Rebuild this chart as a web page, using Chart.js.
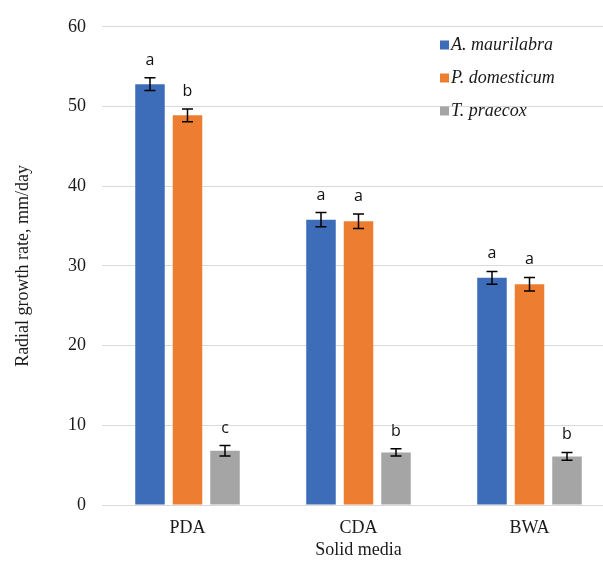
<!DOCTYPE html>
<html>
<head>
<meta charset="utf-8">
<script src="https://cdn.jsdelivr.net/npm/chart.js@4/dist/chart.umd.min.js"></script>
<style>
  html, body { margin: 0; padding: 0; background: #fff; overflow: hidden; }
  #wrap { width: 620px; height: 562px; }
</style>
</head>
<body>
<div id="wrap"><canvas id="c" width="620" height="562"></canvas></div>
<script>
const categories = ['PDA', 'CDA', 'BWA'];
const seriesNames = ['A. maurilabra', 'P. domesticum', 'T. praecox'];
const maurilabra = [52.8, 35.8, 28.5];
const domesticum = [48.9, 35.6, 27.7];
const praecox = [6.8, 6.6, 6.1];
const maurilabraErr = [0.8, 0.9, 0.8];
const domesticumErr = [0.8, 0.9, 0.85];
const praecoxErr = [0.65, 0.45, 0.5];
const maurilabraLetters = ['a', 'a', 'a'];
const domesticumLetters = ['b', 'a', 'a'];
const praecoxLetters = ['c', 'b', 'b'];
const yTicks = [0, 10, 20, 30, 40, 50, 60];

const colors = ['#3d6cb9', '#ed7d31', '#a5a5a5'];
const values = [maurilabra, domesticum, praecox];
const errs = [maurilabraErr, domesticumErr, praecoxErr];
const letters = [maurilabraLetters, domesticumLetters, praecoxLetters];

const serif = '"Liberation Serif", "Times New Roman", serif';

const extrasPlugin = {
  id: 'extras',
  afterDatasetsDraw(chart) {
    const ctx = chart.ctx;
    const y = chart.scales.y;
    ctx.save();
    chart.data.datasets.forEach((ds, di) => {
      const meta = chart.getDatasetMeta(di);
      meta.data.forEach((bar, i) => {
        const v = ds.data[i], e = errs[di][i];
        const yTop = y.getPixelForValue(v + e);
        const yBot = y.getPixelForValue(v - e);
        const x = bar.x;
        ctx.strokeStyle = '#000';
        ctx.lineWidth = 1.5;
        ctx.beginPath();
        ctx.moveTo(x, yTop); ctx.lineTo(x, yBot);
        ctx.moveTo(x - 5.5, yTop); ctx.lineTo(x + 5.5, yTop);
        ctx.moveTo(x - 5.5, yBot); ctx.lineTo(x + 5.5, yBot);
        ctx.stroke();
        ctx.fillStyle = '#111';
        ctx.font = '16px "Open Sans", "Noto Sans", sans-serif';
        ctx.textAlign = 'center';
        ctx.textBaseline = 'alphabetic';
        ctx.fillText(letters[di][i], x, yTop - 13);
      });
    });
    // legend
    const lx = 440, ly = [45, 78, 111];
    seriesNames.forEach((name, i) => {
      ctx.fillStyle = colors[i];
      ctx.fillRect(lx, ly[i] - 4.5, 9, 9);
      ctx.fillStyle = '#1a1a1a';
      ctx.font = 'italic 18px ' + serif;
      ctx.textAlign = 'left';
      ctx.textBaseline = 'middle';
      ctx.fillText(name, lx + 11, ly[i]);
    });
    ctx.restore();
  }
};

new Chart(document.getElementById('c'), {
  type: 'bar',
  data: {
    labels: categories,
    datasets: seriesNames.map((n, i) => ({
      label: n,
      data: values[i],
      backgroundColor: colors[i],
      borderWidth: 0,
      categoryPercentage: 0.658,
      barPercentage: 0.787
    }))
  },
  options: {
    responsive: false,
    animation: false,
    layout: { padding: { top: 22, right: 5, left: 0, bottom: 0 } },
    plugins: { legend: { display: false }, tooltip: { enabled: false } },
    scales: {
      x: {
        grid: { display: false, drawTicks: false },
        border: { display: true, color: '#d9d9d9', width: 1 },
        ticks: { font: { family: serif, size: 18 }, color: '#1a1a1a', padding: 12 },
        title: { display: true, text: 'Solid media', font: { family: serif, size: 18 }, color: '#1a1a1a', padding: { top: 4, bottom: 1 } },
        afterFit(s) { s.height = 57; }
      },
      y: {
        min: 0, max: 60,
        afterBuildTicks(s) { s.ticks = yTicks.map(v => ({ value: v })); },
        grid: { color: '#d9d9d9', lineWidth: 1, drawTicks: false },
        border: { display: false },
        ticks: { font: { family: serif, size: 18 }, color: '#1a1a1a', padding: 16 },
        title: { display: true, text: 'Radial growth rate, mm/day', font: { family: serif, size: 18 }, color: '#1a1a1a', padding: { top: 12, bottom: 0 } },
        afterFit(s) { s.width = 102; }
      }
    }
  },
  plugins: [extrasPlugin]
});
</script>
</body>
</html>
